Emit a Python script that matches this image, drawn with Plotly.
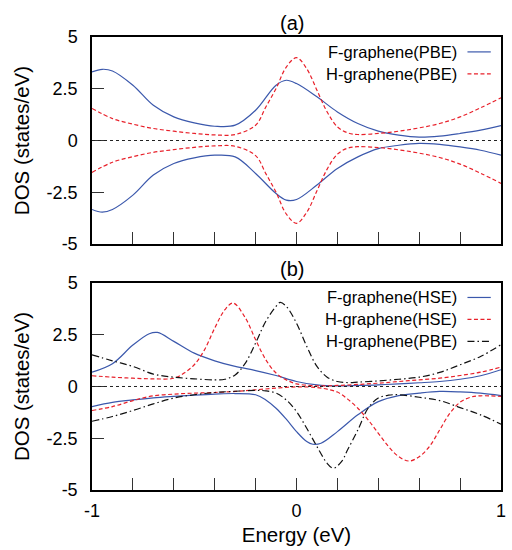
import plotly.graph_objects as go
from plotly.subplots import make_subplots

# ---- panel (a): PBE ----
fa_up_e = [-1.0, -0.95, -0.9, -0.8, -0.7, -0.6, -0.5, -0.4, -0.3, -0.2, -0.1, -0.05, 0.0,
           0.1, 0.2, 0.3, 0.4, 0.5, 0.6, 0.7, 0.8, 0.9, 1.0]
fa_up = [3.31, 3.44, 3.36, 2.67, 1.70, 1.14, 0.85, 0.69, 0.74, 1.46, 2.67, 2.91, 2.75,
         2.11, 1.38, 0.82, 0.45, 0.26, 0.16, 0.21, 0.34, 0.50, 0.72]
fa_dn = [-3.33, -3.46, -3.33, -2.64, -1.67, -1.11, -0.84, -0.71, -0.79, -1.59, -2.56, -2.88, -2.85,
         -2.15, -1.35, -0.79, -0.39, -0.23, -0.14, -0.19, -0.31, -0.47, -0.71]

ha_e = [-1.0, -0.9, -0.8, -0.7, -0.6, -0.5, -0.4, -0.3, -0.2, -0.15, -0.1, -0.05, 0.0,
        0.05, 0.1, 0.15, 0.2, 0.25, 0.3, 0.4, 0.5, 0.6, 0.7, 0.8, 0.9, 1.0]
ha_up = [1.55, 1.06, 0.79, 0.58, 0.45, 0.34, 0.27, 0.29, 0.74, 1.62, 2.51, 3.55, 4.00,
         3.47, 2.43, 1.38, 0.66, 0.37, 0.29, 0.34, 0.45, 0.61, 0.82, 1.14, 1.58, 2.06]
ha_dn = [-1.54, -1.05, -0.78, -0.57, -0.44, -0.33, -0.26, -0.28, -0.73, -1.60, -2.50, -3.55, -4.00,
         -3.47, -2.43, -1.38, -0.66, -0.37, -0.30, -0.34, -0.45, -0.61, -0.82, -1.14, -1.58, -2.07]

# ---- panel (b): HSE vs PBE ----
fb_up_e = [-1.0, -0.9, -0.8, -0.72, -0.68, -0.6, -0.5, -0.4, -0.3, -0.2, -0.1, 0.0,
           0.1, 0.2, 0.3, 0.4, 0.5, 0.6, 0.7, 0.8, 0.9, 1.0]
fb_up = [0.69, 1.10, 2.00, 2.55, 2.61, 2.18, 1.61, 1.24, 0.97, 0.77, 0.53, 0.24,
         0.08, 0.03, 0.05, 0.08, 0.13, 0.18, 0.24, 0.35, 0.52, 0.81]
fb_dn_e = [-1.0, -0.9, -0.8, -0.7, -0.6, -0.5, -0.4, -0.3, -0.2, -0.15, -0.1, -0.05, 0.0,
           0.05, 0.08, 0.12, 0.2, 0.3, 0.4, 0.5, 0.6, 0.7, 0.8, 0.9, 1.0]
fb_dn = [-0.97, -0.77, -0.65, -0.55, -0.48, -0.42, -0.37, -0.34, -0.40, -0.65, -1.05, -1.58, -2.18,
         -2.66, -2.79, -2.74, -2.18, -1.37, -0.73, -0.44, -0.32, -0.24, -0.26, -0.32, -0.44]

hb_up_e = [-1.0, -0.9, -0.8, -0.7, -0.6, -0.55, -0.5, -0.45, -0.4, -0.35, -0.31, -0.25, -0.2,
           -0.15, -0.1, -0.05, 0.0, 0.1, 0.2, 0.3, 0.4, 0.5, 0.6, 0.7, 0.8, 0.9, 1.0]
hb_up = [0.52, 0.45, 0.40, 0.37, 0.40, 0.65, 1.05, 1.77, 2.82, 3.71, 4.03, 3.31, 2.26,
         1.29, 0.65, 0.32, 0.13, 0.03, 0.05, 0.10, 0.16, 0.24, 0.32, 0.40, 0.53, 0.69, 0.94]
hb_dn_e = [-1.0, -0.9, -0.8, -0.7, -0.6, -0.5, -0.4, -0.3, -0.2, -0.1, 0.0, 0.1, 0.15, 0.2,
           0.25, 0.3, 0.35, 0.4, 0.45, 0.5, 0.55, 0.6, 0.65, 0.7, 0.75, 0.8, 0.85, 0.9, 1.0]
hb_dn = [-1.16, -0.97, -0.68, -0.45, -0.37, -0.32, -0.29, -0.24, -0.16, -0.08, -0.02, -0.05, -0.13, -0.27,
         -0.61, -1.05, -1.61, -2.26, -2.90, -3.39, -3.60, -3.39, -2.90, -2.10, -1.29, -0.76, -0.52, -0.45, -0.48]

pb_up_e = [-1.0, -0.9, -0.8, -0.7, -0.6, -0.5, -0.4, -0.35, -0.3, -0.25, -0.2, -0.15, -0.1,
           -0.08, -0.05, 0.0, 0.05, 0.1, 0.15, 0.2, 0.25, 0.3, 0.4, 0.5, 0.6, 0.7, 0.8, 0.9, 1.0]
pb_up = [1.53, 1.24, 0.97, 0.60, 0.45, 0.37, 0.32, 0.35, 0.56, 1.13, 2.10, 3.15, 3.87,
         4.06, 3.87, 3.06, 1.94, 0.97, 0.45, 0.24, 0.19, 0.21, 0.27, 0.35, 0.45, 0.68, 1.05, 1.45, 2.02]
pb_dn_e = [-1.0, -0.9, -0.8, -0.7, -0.6, -0.5, -0.4, -0.3, -0.2, -0.15, -0.1, -0.05, 0.0, 0.05,
           0.1, 0.15, 0.18, 0.22, 0.25, 0.3, 0.35, 0.4, 0.45, 0.5, 0.6, 0.7, 0.8, 0.9, 1.0]
pb_dn = [-1.68, -1.45, -1.16, -0.84, -0.56, -0.40, -0.29, -0.23, -0.19, -0.21, -0.32, -0.65, -1.21, -2.02,
         -2.90, -3.71, -3.95, -3.63, -3.06, -2.10, -1.05, -0.56, -0.42, -0.40, -0.52, -0.68, -1.02, -1.37, -1.82]

x_ticks = [-1, -0.8, -0.6, -0.4, -0.2, 0, 0.2, 0.4, 0.6, 0.8, 1]
x_labels = ["-1", "", "", "", "", "0", "", "", "", "", "1"]
y_ticks = [-5, -2.5, 0, 2.5, 5]
y_labels = ["-5", "-2.5", "0", "2.5", "5"]

legend_a = ["F-graphene(PBE)", "H-graphene(PBE)"]
legend_b = ["F-graphene(HSE)", "H-graphene(HSE)", "H-graphene(PBE)"]

BLUE = "#3b58ac"
RED = "#e8202a"
BLACK = "#111111"
FONT = "Liberation Sans, Arial, sans-serif"
solid = dict(color=BLUE, width=1.2)
dashed = dict(color=RED, width=1.2, dash="4px,2.5px")
dashdot = dict(color=BLACK, width=1.2, dash="7px,3px,1.5px,3px")

fig = make_subplots(rows=2, cols=1, vertical_spacing=0.086,
                    subplot_titles=("(a)", "(b)"))

def curve(x, y, line, row):
    fig.add_trace(go.Scatter(x=x, y=y, mode="lines", line=line, line_shape="spline",
                             showlegend=False, hoverinfo="skip"), row=row, col=1)

curve(fa_up_e, fa_up, solid, 1)
curve(fa_up_e, fa_dn, solid, 1)
curve(ha_e, ha_up, dashed, 1)
curve(ha_e, ha_dn, dashed, 1)

curve(fb_up_e, fb_up, solid, 2)
curve(fb_dn_e, fb_dn, solid, 2)
curve(hb_up_e, hb_up, dashed, 2)
curve(hb_dn_e, hb_dn, dashed, 2)
curve(pb_up_e, pb_up, dashdot, 2)
curve(pb_dn_e, pb_dn, dashdot, 2)

for r in (1, 2):
    fig.add_hline(y=0, line=dict(color="#222", width=1, dash="dot"), row=r, col=1)

# legends drawn gnuplot-style: text right-aligned, sample to the right
def legend(labels, styles, xref, yref, top):
    for i, (lab, st) in enumerate(zip(labels, styles)):
        yy = top - i * 0.106
        fig.add_annotation(text=lab, x=0.897, y=yy, xref=xref, yref=yref,
                           xanchor="right", yanchor="middle", showarrow=False,
                           font=dict(size=16.5, color="black", family=FONT))
        fig.add_shape(type="line", x0=0.918, x1=0.975, y0=yy, y1=yy,
                      xref=xref, yref=yref, line=dict(st))

legend(legend_a, [solid, dashed], "x domain", "y domain", 0.928)
legend(legend_b, [solid, dashed, dashdot], "x2 domain", "y2 domain", 0.93)

axis_common = dict(showline=True, mirror=True, linecolor="black", linewidth=1.5,
                   ticks="inside", ticklen=12, tickcolor="#333", tickwidth=1,
                   showgrid=False, zeroline=False,
                   tickfont=dict(size=18, color="black", family=FONT))
fig.update_xaxes(range=[-1, 1], tickvals=x_ticks, ticktext=x_labels, **axis_common)
fig.update_xaxes(showticklabels=False, row=1, col=1)
fig.update_xaxes(title=dict(text="Energy (eV)", font=dict(size=20.5, family=FONT, color="black"),
                            standoff=7), ticklabelstandoff=4, row=2, col=1)
fig.update_yaxes(range=[-5, 5], tickvals=y_ticks, ticktext=y_labels, ticklabelstandoff=9,
                 title=dict(text="DOS (states/eV)", font=dict(size=20.5, family=FONT, color="black"),
                            standoff=11), **axis_common)

for ann in fig.layout.annotations[:2]:
    ann.font = dict(size=20, family=FONT, color="black")
    ann.xshift = -5
    ann.yshift = 1

fig.update_layout(width=512, height=550, margin=dict(l=92, r=6, t=37, b=60),
                  plot_bgcolor="white", paper_bgcolor="white", showlegend=False)

# drop the browser's default body margin so the figure fills the window
fig.write_html("out.html", config={"displayModeBar": False},
               post_script="document.body.style.margin='0';")
